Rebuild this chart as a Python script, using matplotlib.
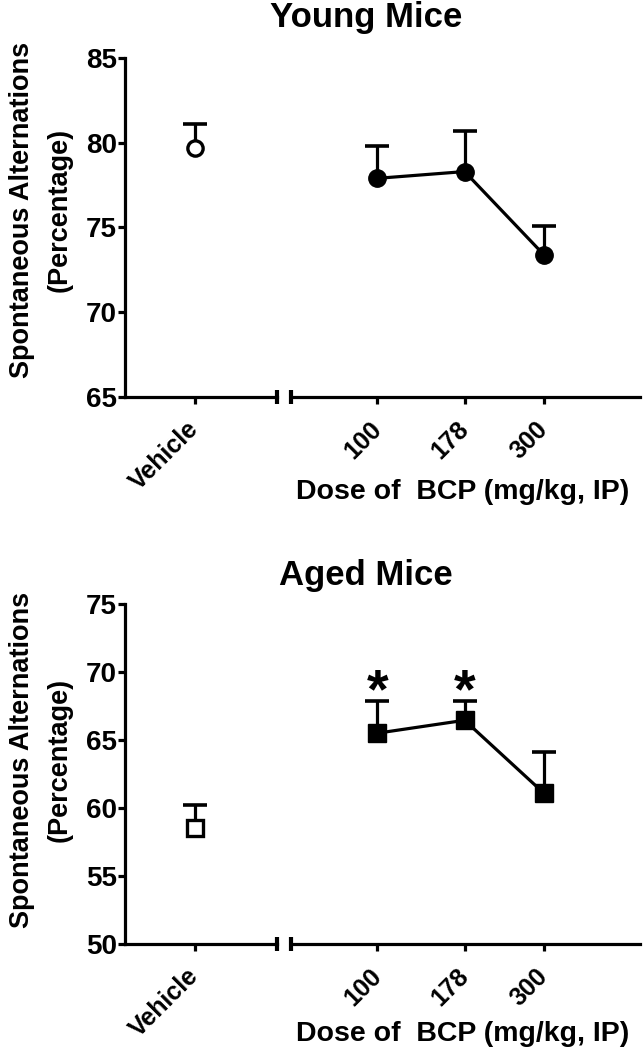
import numpy as np
import matplotlib
matplotlib.use('Agg')
import matplotlib.pyplot as plt
import matplotlib.transforms as mtransforms

plt.rcParams['font.family'] = ['Liberation Sans', 'DejaVu Sans']
plt.rcParams['font.weight'] = 'bold'

# data
doses = [100, 178, 300]
dose_labels = ['100', '178', '300']

young_vehicle_mean = 79.7
young_vehicle_sem = 1.4
young_mean = [77.9, 78.3, 73.4]
young_sem = [1.9, 2.4, 1.7]

aged_vehicle_mean = 58.5
aged_vehicle_sem = 1.75
aged_mean = [65.5, 66.45, 61.1]
aged_sem = [2.35, 1.4, 3.0]
aged_signif = [True, True, False]

panels = [
    dict(title='Young Mice', ylim=(65, 85), yticks=[65, 70, 75, 80, 85],
         vmean=young_vehicle_mean, vsem=young_vehicle_sem,
         mean=young_mean, sem=young_sem, signif=[False, False, False],
         marker='o', top=58, bottom=397, title_y=18, xlab_y=492, ylab_y=210),
    dict(title='Aged Mice', ylim=(50, 75), yticks=[50, 55, 60, 65, 70, 75],
         vmean=aged_vehicle_mean, vsem=aged_vehicle_sem,
         mean=aged_mean, sem=aged_sem, signif=aged_signif,
         marker='s', top=604, bottom=944, title_y=575, xlab_y=1034, ylab_y=760),
]

W, H = 644, 1050
fig = plt.figure(figsize=(W / 100, H / 100), dpi=100)

lw = 2.3
fs = 20
xfs = 18

def upper_err(ax, x, m, e):
    # GraphPad style: only the upper half of the error bar
    x = np.asarray(x, dtype=float)
    m = np.asarray(m, dtype=float)
    e = np.asarray(e, dtype=float)
    ax.vlines(x, m, m + e, color='black', lw=lw, zorder=2)
    ax.plot(x, m + e, marker='_', ms=17, mew=lw + 0.3, color='black', zorder=2,
            linestyle='none')

def shift_labels(ax):
    # move the rotated labels a bit left/down like the original
    off = mtransforms.ScaledTranslation(-8 / 100, -10 / 100, fig.dpi_scale_trans)
    for lab in ax.get_xticklabels():
        lab.set_transform(lab.get_transform() + off)

for p in panels:
    y0 = 1 - p['bottom'] / H
    h = (p['bottom'] - p['top']) / H
    axL = fig.add_axes([125 / W, y0, (277 - 125) / W, h])
    axR = fig.add_axes([291 / W, y0, (640 - 291) / W, h])

    # left part: vehicle
    axL.set_xlim(-0.95, 1.12)
    axL.set_ylim(p['ylim'])
    upper_err(axL, [0], [p['vmean']], [p['vsem']])
    axL.plot([0], [p['vmean']], marker=p['marker'], ms=11, mfc='white',
             mec='black', mew=2.4, linestyle='none', zorder=3)
    axL.set_xticks([0])
    axL.set_xticklabels(['Vehicle'], rotation=45, ha='right',
                        rotation_mode='anchor', fontsize=xfs, fontweight='bold')
    axL.set_yticks(p['yticks'])
    axL.set_yticklabels([str(t) for t in p['yticks']], fontsize=fs, fontweight='bold')
    for s in ['top', 'right']:
        axL.spines[s].set_visible(False)
    for s in ['left', 'bottom']:
        axL.spines[s].set_linewidth(lw)
    axL.tick_params(axis='y', width=lw, length=5, pad=1)
    axL.tick_params(axis='x', width=lw, length=5, pad=2)
    shift_labels(axL)

    # right part: BCP doses on log scale
    axR.set_xscale('log')
    axR.set_xlim(10 ** 1.753, 10 ** 2.753)
    axR.set_ylim(p['ylim'])
    upper_err(axR, doses, p['mean'], p['sem'])
    axR.plot(doses, p['mean'], color='black', lw=lw, marker=p['marker'],
             ms=12.5, zorder=3)
    for d, m, e, sg in zip(doses, p['mean'], p['sem'], p['signif']):
        if sg:
            axR.text(d, m + e - 1.3, '*', ha='center', va='bottom',
                     fontsize=40, fontweight='bold')
    axR.set_xticks(doses)
    axR.set_xticklabels(dose_labels, rotation=45, ha='right',
                        rotation_mode='anchor', fontsize=xfs, fontweight='bold')
    axR.xaxis.set_minor_locator(matplotlib.ticker.NullLocator())
    axR.set_yticks([])
    for s in ['top', 'right', 'left']:
        axR.spines[s].set_visible(False)
    axR.spines['bottom'].set_linewidth(lw)
    axR.tick_params(axis='x', width=lw, length=5, pad=2)
    shift_labels(axR)

    # break marks
    axL.plot([1], [0], marker='|', ms=10, mew=3, color='black',
             transform=axL.transAxes, clip_on=False)
    axR.plot([0], [0], marker='|', ms=10, mew=3, color='black',
             transform=axR.transAxes, clip_on=False)

    fig.text(366 / W, 1 - p['title_y'] / H, p['title'], ha='center', va='center',
             fontsize=25, fontweight='bold')
    fig.text(463 / W, 1 - p['xlab_y'] / H, 'Dose of  BCP (mg/kg, IP)',
             ha='center', va='center', fontsize=20.5, fontweight='bold')
    fig.text(22 / W, 1 - p['ylab_y'] / H, 'Spontaneous Alternations',
             ha='center', va='center', rotation=90, fontsize=19.5, fontweight='bold')
    fig.text(60 / W, 1 - p['ylab_y'] / H, '(Percentage)',
             ha='center', va='center', rotation=90, fontsize=19.5, fontweight='bold')

fig.savefig('out.png', dpi=100)
